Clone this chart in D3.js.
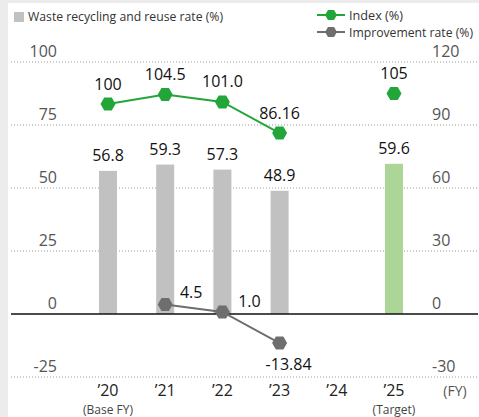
<!DOCTYPE html>
<html><head><meta charset="utf-8">
<script src="https://cdn.jsdelivr.net/npm/d3@7"></script>
<style>
html,body{margin:0;padding:0;background:#ececec;}
svg{display:block;font-family:"Open Sans",sans-serif;}
</style></head>
<body><svg id="c" width="479" height="417"></svg>
<script>
const categories = ["’20","’21","’22","’23","’24","’25"];
const subLabels = ["(Base FY)","","","","","(Target)"];
const recycleRate = [56.8, 59.3, 57.3, 48.9, null, 59.6];
const recycleLabels = ["56.8","59.3","57.3","48.9","","59.6"];
const indexVals = [100, 104.5, 101.0, 86.16, null, 105];
const indexLabels = ["100","104.5","101.0","86.16","","105"];
const improveVals = [null, 4.5, 1.0, -13.84, null, null];
const improveLabels = ["","4.5","1.0","-13.84","",""];
const leftTicks = [-25, 0, 25, 50, 75, 100];
const rightTicks = [-30, 0, 30, 60, 90, 120];

const svg = d3.select("#c");
svg.append("rect").attr("x",8).attr("y",3).attr("width",471).attr("height",414).attr("fill","#fff");

const x = d3.scalePoint().domain(categories).range([108, 394]);
const yL = d3.scaleLinear().domain([-25, 100]).range([377, 62]);
const yR = d3.scaleLinear().domain([-30, 120]).range([377, 62]);

// gridlines
svg.append("g").selectAll("line").data(leftTicks.filter(d=>d!==0)).join("line")
  .attr("x1",11).attr("x2",478).attr("y1",d=>yL(d)).attr("y2",d=>yL(d))
  .attr("stroke","#9a9a9a").attr("stroke-width",1).attr("stroke-dasharray","1,2");

// left tick labels
svg.append("g").selectAll("text").data(leftTicks).join("text")
  .attr("x",57).attr("y",d=>yL(d)-5).attr("text-anchor","end")
  .attr("font-size",16).attr("fill","#555").text(d=>d);
// right tick labels
svg.append("g").selectAll("text").data(rightTicks).join("text")
  .attr("x",432).attr("y",d=>yR(d)-5).attr("text-anchor","start")
  .attr("font-size",16).attr("fill","#555").text(d=>d);

// bars
const bw = 18;
const barData = categories.map((c,i)=>({c, v:recycleRate[i], l:recycleLabels[i], t:i===5})).filter(d=>d.v!=null);
svg.append("g").selectAll("rect").data(barData).join("rect")
  .attr("x",d=>x(d.c)-bw/2).attr("width",bw)
  .attr("y",d=>yL(d.v)).attr("height",d=>yL(0)-yL(d.v))
  .attr("fill",d=>d.t?"#acd598":"#c0c1c0");
svg.append("g").selectAll("text").data(barData).join("text")
  .attr("x",d=>x(d.c)).attr("y",d=>yL(d.v)-10).attr("text-anchor","middle")
  .attr("font-size",16).attr("fill","#111").text(d=>d.l);

// zero line
svg.append("line").attr("x1",11).attr("x2",478).attr("y1",yL(0)).attr("y2",yL(0))
  .attr("stroke","#111").attr("stroke-width",1.5);

function hex(cx, cy, w, h){
  const a=w/2, q=w/4, b=h/2;
  return `M${cx-a},${cy} L${cx-q},${cy-b} L${cx+q},${cy-b} L${cx+a},${cy} L${cx+q},${cy+b} L${cx-q},${cy+b} Z`;
}

// index line
const green = "#22a63a", grey = "#6e6e6e";
const idxData = categories.map((c,i)=>({c, v:indexVals[i], l:indexLabels[i]})).filter(d=>d.v!=null);
const idxLine = idxData.filter(d=>d.c!=="’25");
svg.append("path").datum(idxLine)
  .attr("d", d3.line().x(d=>x(d.c)).y(d=>yR(d.v)))
  .attr("fill","none").attr("stroke",green).attr("stroke-width",2);
svg.append("g").selectAll("path").data(idxData).join("path")
  .attr("d",d=>hex(x(d.c), yR(d.v), 15, 13)).attr("fill",green);
svg.append("g").selectAll("text").data(idxData).join("text")
  .attr("x",d=>x(d.c)).attr("y",d=>yR(d.v)-14.5).attr("text-anchor","middle")
  .attr("font-size",16).attr("fill","#111").text(d=>d.l);

// improvement line
const impData = categories.map((c,i)=>({c, v:improveVals[i], l:improveLabels[i]})).filter(d=>d.v!=null);
svg.append("path").datum(impData)
  .attr("d", d3.line().x(d=>x(d.c)).y(d=>yR(d.v)))
  .attr("fill","none").attr("stroke",grey).attr("stroke-width",2);
svg.append("g").selectAll("path").data(impData).join("path")
  .attr("d",d=>hex(x(d.c), yR(d.v), 15, 13)).attr("fill",grey);
const impOff = {"’21":[26,-7],"’22":[27,-5],"’23":[9,27]};
svg.append("g").selectAll("text").data(impData).join("text")
  .attr("x",d=>x(d.c)+impOff[d.c][0]).attr("y",d=>yR(d.v)+impOff[d.c][1]).attr("text-anchor","middle")
  .attr("font-size",16).attr("fill","#111").text(d=>d.l);

// x axis labels
svg.append("g").selectAll("text").data(categories).join("text")
  .attr("x",d=>x(d)).attr("y",396).attr("text-anchor","middle")
  .attr("font-size",16).attr("font-weight",500).attr("fill","#222").text(d=>d);
svg.append("g").selectAll("text").data(categories.map((c,i)=>({c,s:subLabels[i]})).filter(d=>d.s)).join("text")
  .attr("x",d=>x(d.c)).attr("y",414).attr("text-anchor","middle")
  .attr("font-size",12).attr("fill","#444").text(d=>d.s);
svg.append("text").attr("x",455).attr("y",396).attr("text-anchor","middle")
  .attr("font-size",14).attr("fill","#555").text("(FY)");

// legend
svg.append("rect").attr("x",14).attr("y",12).attr("width",10).attr("height",10).attr("fill","#c0c1c0");
svg.append("text").attr("x",28).attr("y",21).attr("font-size",13).attr("fill","#333")
  .attr("textLength",195).attr("lengthAdjust","spacingAndGlyphs").text("Waste recycling and reuse rate (%)");
const leg = [{t:"Index (%)", c:green, y:15, w:54},{t:"Improvement rate (%)", c:grey, y:32, w:124}];
leg.forEach(l=>{
  svg.append("line").attr("x1",317).attr("x2",345).attr("y1",l.y).attr("y2",l.y).attr("stroke",l.c).attr("stroke-width",2);
  svg.append("path").attr("d",hex(331,l.y,12,10)).attr("fill",l.c);
  svg.append("text").attr("x",349).attr("y",l.y+5).attr("font-size",12).attr("fill","#333")
    .attr("textLength",l.w).attr("lengthAdjust","spacingAndGlyphs").text(l.t);
});
</script></body></html>
